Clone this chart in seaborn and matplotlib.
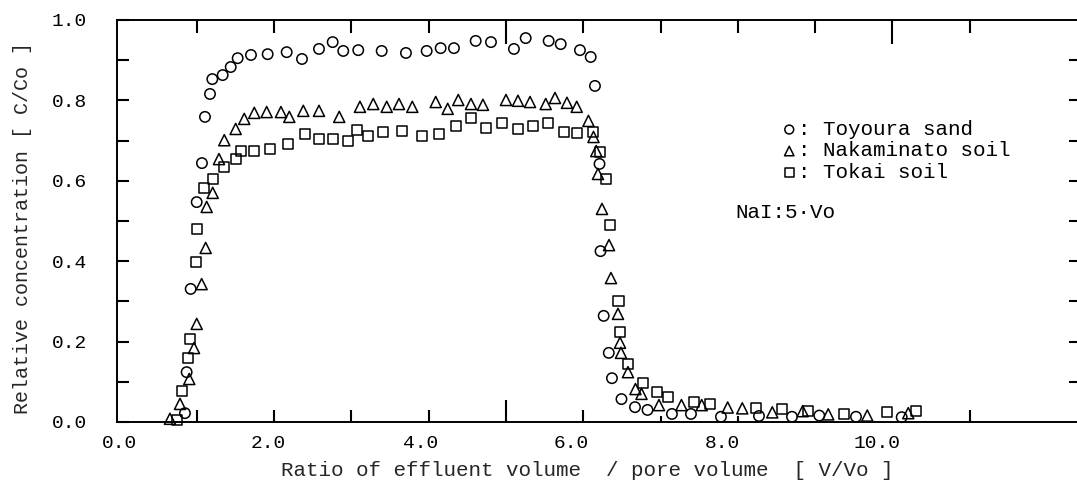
import numpy as np
import pandas as pd
import matplotlib
matplotlib.use("Agg")
import matplotlib.pyplot as plt
import seaborn as sns

# ---------------- data ----------------
series_names = ["Toyoura sand", "Nakaminato soil", "Tokai soil"]

toyoura_x = [0.847, 0.869, 0.921, 0.999, 1.067, 1.106, 1.171, 1.201, 1.335, 1.439,
             1.529, 1.701, 1.917, 2.163, 2.361, 2.581, 2.758, 2.895, 3.089, 3.392,
             3.706, 3.974, 4.155, 4.327, 4.608, 4.806, 5.103, 5.255, 5.552, 5.708,
             5.957, 6.096, 6.151, 6.210, 6.223, 6.264, 6.330, 6.371, 6.494, 6.669,
             6.831, 7.147, 7.393, 7.781, 8.273, 8.700, 9.053, 9.528, 10.119]
toyoura_y = [0.022, 0.124, 0.331, 0.547, 0.644, 0.759, 0.816, 0.853, 0.863, 0.883,
             0.905, 0.913, 0.915, 0.920, 0.903, 0.928, 0.945, 0.923, 0.925, 0.923,
             0.918, 0.923, 0.930, 0.930, 0.948, 0.945, 0.928, 0.955, 0.948, 0.940,
             0.925, 0.908, 0.836, 0.642, 0.425, 0.264, 0.172, 0.109, 0.057, 0.037,
             0.030, 0.020, 0.020, 0.013, 0.015, 0.013, 0.016, 0.013, 0.012]

nakaminato_x = [0.653, 0.783, 0.903, 0.964, 0.999, 1.063, 1.115, 1.128, 1.206, 1.287,
                1.356, 1.503, 1.614, 1.744, 1.904, 2.089, 2.197, 2.378, 2.581, 2.843,
                3.111, 3.283, 3.457, 3.616, 3.788, 4.091, 4.246, 4.383, 4.547, 4.702,
                5.000, 5.155, 5.311, 5.514, 5.634, 5.789, 5.915, 6.067, 6.132, 6.168,
                6.190, 6.242, 6.333, 6.358, 6.449, 6.475, 6.488, 6.578, 6.675, 6.753,
                6.979, 7.270, 7.532, 7.868, 8.057, 8.445, 8.838, 9.169, 9.674, 10.204]
nakaminato_y = [0.008, 0.045, 0.107, 0.184, 0.244, 0.343, 0.433, 0.535, 0.570, 0.654,
                0.701, 0.729, 0.754, 0.769, 0.771, 0.771, 0.759, 0.774, 0.774, 0.759,
                0.784, 0.791, 0.784, 0.791, 0.784, 0.796, 0.779, 0.801, 0.791, 0.789,
                0.801, 0.799, 0.796, 0.791, 0.806, 0.794, 0.784, 0.749, 0.709, 0.674,
                0.617, 0.530, 0.440, 0.358, 0.269, 0.197, 0.172, 0.124, 0.082, 0.070,
                0.042, 0.042, 0.042, 0.036, 0.034, 0.024, 0.027, 0.019, 0.016, 0.022]

tokai_x = [0.744, 0.805, 0.890, 0.912, 0.986, 1.006, 1.097, 1.206, 1.352, 1.507,
           1.572, 1.744, 1.951, 2.184, 2.400, 2.581, 2.758, 2.952, 3.069, 3.219,
           3.405, 3.651, 3.909, 4.133, 4.357, 4.543, 4.741, 4.952, 5.159, 5.349,
           5.543, 5.754, 5.922, 6.125, 6.212, 6.298, 6.345, 6.455, 6.471, 6.578,
           6.776, 6.953, 7.096, 7.432, 7.639, 8.234, 8.574, 8.911, 9.376, 9.933,
           10.304]
tokai_y = [0.005, 0.077, 0.159, 0.206, 0.398, 0.480, 0.582, 0.604, 0.634, 0.654,
           0.674, 0.674, 0.679, 0.692, 0.716, 0.704, 0.704, 0.699, 0.726, 0.711,
           0.721, 0.724, 0.711, 0.716, 0.736, 0.756, 0.731, 0.744, 0.729, 0.736,
           0.744, 0.721, 0.719, 0.721, 0.672, 0.604, 0.490, 0.301, 0.224, 0.144,
           0.097, 0.075, 0.062, 0.050, 0.045, 0.035, 0.032, 0.027, 0.020, 0.025,
           0.027]

x_tick_labels = ["0.0", "2.0", "4.0", "6.0", "8.0", "10.0"]
y_tick_values = [0.0, 0.2, 0.4, 0.6, 0.8, 1.0]
y_tick_labels = ["0.0", "0.2", "0.4", "0.6", "0.8", "1.0"]

x_label = "Ratio of effluent volume  / pore volume  [ V/Vo ]"
y_label = "Relative concentration [ C/Co ]"
note_text = "NaI:5\u00b7Vo"

# ---------------- layout ----------------
# the scanned original prints its x labels slightly off its tick marks
x_label_positions = [0.006, 1.928, 3.894, 5.840, 7.795, 9.800]

sns.set_theme(style="white")
plt.rcParams['font.family'] = ['Liberation Mono', 'DejaVu Sans Mono']
plt.rcParams['text.color'] = 'black'
plt.rcParams['xtick.color'] = 'black'
plt.rcParams['ytick.color'] = 'black'

W, H = 1077, 497
fig = plt.figure(figsize=(W / 100, H / 100), dpi=100)
fig.patch.set_facecolor('white')
ax_l, ax_r, ax_t, ax_b = 117, 1077, 20, 422
ax = fig.add_axes([ax_l / W, 1 - ax_b / H, (ax_r - ax_l) / W, (ax_b - ax_t) / H])
ax.set_facecolor('white')

df = pd.concat([
    pd.DataFrame({"v": toyoura_x, "c": toyoura_y, "soil": series_names[0]}),
    pd.DataFrame({"v": nakaminato_x, "c": nakaminato_y, "soil": series_names[1]}),
    pd.DataFrame({"v": tokai_x, "c": tokai_y, "soil": series_names[2]}),
], ignore_index=True)

markers = {"Toyoura sand": "o", "Nakaminato soil": "^", "Tokai soil": "s"}
sizes = {"Toyoura sand": 56, "Nakaminato soil": 64, "Tokai soil": 54}
for name in series_names:
    sns.scatterplot(data=df[df["soil"] == name], x="v", y="c", ax=ax,
                    marker=markers[name], s=sizes[name], facecolors="none",
                    edgecolor="black", linewidth=1.1, label=": " + name,
                    zorder=3, clip_on=False)

ax.set_xlim(-0.032, 12.387)
ax.set_ylim(0, 1.0)

# x ticks: labels (no marks), short inward marks at integers
ax.set_xticks(x_label_positions, x_tick_labels)
ax.set_xticks([1, 2, 3, 4, 6, 11], minor=True)
ax.tick_params(axis='x', which='major', length=0, pad=9.5, labelsize=14)
ax.tick_params(axis='x', which='minor', direction='in', length=8.5, width=1.5,
               bottom=True, top=False)

sec_b = ax.secondary_xaxis('bottom')
sec_b.set_xticks([5])
sec_b.set_xticks([7, 8], minor=True)
sec_b.tick_params(which='major', direction='in', length=16, width=1.5, labelbottom=False)
sec_b.tick_params(which='minor', direction='in', length=4, width=1.5)
for s in sec_b.spines.values():
    s.set_visible(False)

sec_t = ax.secondary_xaxis('top')
sec_t.set_xticks([5, 10])
sec_t.set_xticks([1, 2, 3, 4, 6, 7, 8, 9, 11], minor=True)
sec_t.tick_params(which='major', direction='in', length=17, width=1.5, labeltop=False)
sec_t.tick_params(which='minor', direction='in', length=9.5, width=1.5)
for s in sec_t.spines.values():
    s.set_visible(False)

# y ticks
ax.set_yticks(y_tick_values, y_tick_labels)
ax.set_yticks([0.1, 0.3, 0.5, 0.7, 0.9], minor=True)
ax.tick_params(axis='y', which='both', direction='in', length=8.6, width=1.5,
               left=True, right=False, pad=21.5, labelsize=14)

sec_r = ax.secondary_yaxis('right')
sec_r.set_yticks([0.1, 0.2, 0.3, 0.4, 0.5, 0.6, 0.7, 0.8, 0.9])
sec_r.tick_params(direction='in', length=6, width=1.5, labelright=False)
for s in sec_r.spines.values():
    s.set_visible(False)

for side in ['top', 'bottom', 'left']:
    ax.spines[side].set_visible(True)
    ax.spines[side].set_color('black')
    ax.spines[side].set_linewidth(1.4)
ax.spines['right'].set_visible(False)
ax.grid(False)

# axis labels
ax.set_xlabel(x_label, fontsize=15)
ax.xaxis.set_label_coords((587 - ax_l) / (ax_r - ax_l), (ax_b - 471) / (ax_b - ax_t))
ax.xaxis.label.set_verticalalignment('center')
ax.set_ylabel(y_label, fontsize=14.4)
ax.yaxis.set_label_coords((23 - ax_l) / (ax_r - ax_l), (ax_b - 228) / (ax_b - ax_t))
ax.yaxis.label.set_verticalalignment('center')

# legend
ax.legend(loc='upper left', bbox_to_anchor=(783 / W, 1 - 120 / H),
          bbox_transform=fig.transFigure, frameon=False, borderpad=0,
          borderaxespad=0, handlelength=0.6, handletextpad=0.1,
          labelspacing=0.12, fontsize=15, markerscale=0.85)

# annotation
ax.text((735 - ax_l) / (ax_r - ax_l), (ax_b - 213) / (ax_b - ax_t), note_text,
        transform=ax.transAxes, ha='left', va='center', fontsize=15)

fig.savefig('out.png', dpi=100, facecolor='white')
